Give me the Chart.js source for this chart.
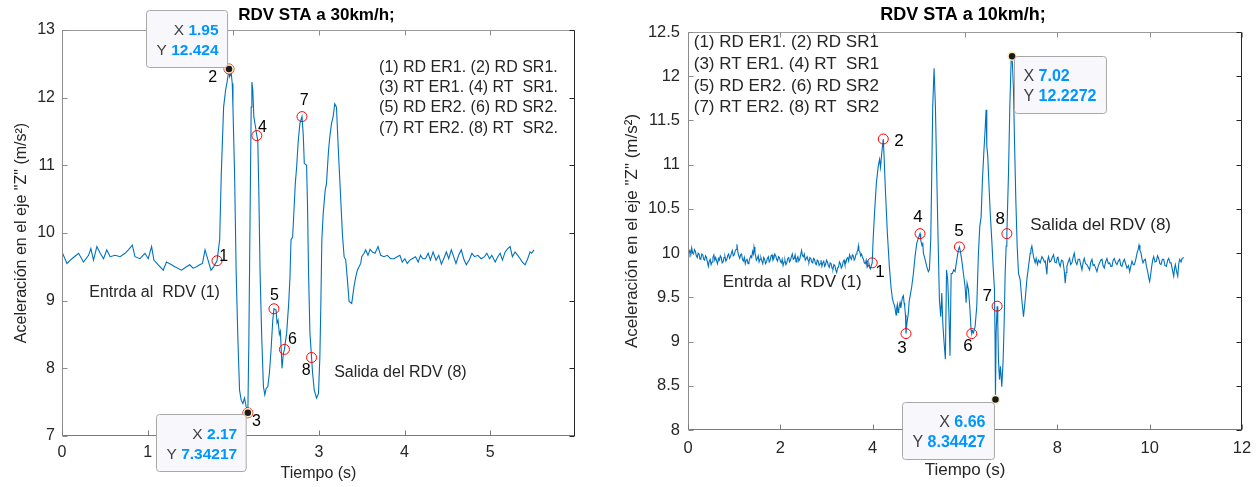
<!DOCTYPE html>
<html><head><meta charset="utf-8">
<script src="https://cdn.jsdelivr.net/npm/chart.js@4.4.1/dist/chart.umd.min.js"></script>
<style>
html,body{margin:0;padding:0;background:#fff;}
body{width:1259px;height:487px;overflow:hidden;position:relative;}
#cA{position:absolute;left:0;top:0;}
#cB{position:absolute;left:615px;top:0;}
</style></head>
<body>
<canvas id="cA" width="615" height="487" style="width:615px;height:487px"></canvas>
<canvas id="cB" width="644" height="487" style="width:644px;height:487px"></canvas>
<script>
// ---------- DATA: RDV STA a 30km/h ----------  [time (s), accel Z (m/s2)]
const accel30 = [
[0.000,9.72],[0.058,9.55],[0.116,9.62],[0.155,9.66],[0.194,9.70],[0.251,9.57],[0.310,9.67],[0.337,9.77],[0.368,9.60],[0.407,9.80],
[0.446,9.70],[0.485,9.62],[0.523,9.75],[0.562,9.65],[0.620,9.67],[0.678,9.65],[0.736,9.70],[0.775,9.75],[0.821,9.82],[0.852,9.65],
[0.910,9.62],[0.969,9.70],[1.007,9.62],[1.046,9.80],[1.073,9.60],[1.124,9.53],[1.182,9.45],[1.220,9.57],[1.279,9.53],[1.317,9.50],
[1.395,9.45],[1.453,9.50],[1.492,9.53],[1.530,9.48],[1.570,9.50],[1.608,9.53],[1.640,9.55],[1.670,9.75],[1.700,9.62],[1.740,9.45],
[1.770,9.50],[1.810,9.59],[1.841,9.90],[1.860,10.88],[1.887,11.86],[1.910,12.11],[1.930,12.25],[1.950,12.424],[1.957,12.31],[1.976,12.36],
[1.988,12.21],[1.996,11.86],[2.015,10.88],[2.034,9.40],[2.054,8.42],[2.073,7.68],[2.092,7.53],[2.112,7.48],[2.131,7.56],[2.151,7.43],
[2.170,7.342],[2.182,8.42],[2.197,10.39],[2.209,11.86],[2.217,12.23],[2.228,12.11],[2.240,11.72],[2.259,11.57],[2.275,11.44],[2.286,11.37],
[2.298,10.63],[2.313,9.40],[2.333,8.42],[2.352,7.73],[2.368,7.61],[2.383,7.70],[2.403,7.73],[2.422,7.93],[2.441,8.27],[2.461,8.71],
[2.475,8.88],[2.499,8.86],[2.511,8.67],[2.523,8.71],[2.538,8.50],[2.550,8.55],[2.569,8.00],[2.585,8.22],[2.597,8.28],[2.623,8.52],
[2.647,8.96],[2.662,9.35],[2.674,9.90],[2.693,9.94],[2.705,10.24],[2.724,10.73],[2.740,10.98],[2.759,11.37],[2.778,11.62],[2.802,11.72],
[2.817,11.45],[2.829,11.03],[2.856,11.00],[2.867,10.39],[2.879,9.40],[2.895,8.52],[2.914,8.16],[2.926,7.93],[2.945,7.68],[2.972,7.56],
[2.995,7.63],[3.011,8.17],[3.022,8.91],[3.034,9.90],[3.050,10.29],[3.073,10.63],[3.088,10.73],[3.112,11.22],[3.127,11.42],[3.147,11.62],
[3.166,11.72],[3.185,11.91],[3.205,11.86],[3.220,11.42],[3.236,10.98],[3.255,10.49],[3.274,9.99],[3.294,9.65],[3.313,9.60],[3.333,9.30],
[3.352,8.99],[3.383,8.96],[3.410,9.21],[3.430,9.35],[3.449,9.45],[3.468,9.50],[3.488,9.55],[3.500,9.65],[3.527,9.70],[3.546,9.75],
[3.573,9.67],[3.597,9.76],[3.624,9.72],[3.655,9.70],[3.690,9.80],[3.721,9.67],[3.759,9.65],[3.798,9.67],[3.837,9.62],[3.876,9.62],
[3.914,9.65],[3.945,9.67],[3.973,9.57],[4.003,9.62],[4.031,9.55],[4.062,9.60],[4.089,9.62],[4.128,9.65],[4.159,9.57],[4.186,9.67],
[4.213,9.62],[4.244,9.62],[4.275,9.70],[4.302,9.60],[4.333,9.72],[4.368,9.60],[4.399,9.67],[4.430,9.54],[4.457,9.62],[4.488,9.72],
[4.515,9.62],[4.546,9.75],[4.573,9.65],[4.600,9.55],[4.631,9.67],[4.662,9.75],[4.690,9.62],[4.721,9.53],[4.755,9.60],[4.787,9.70],
[4.817,9.65],[4.856,9.67],[4.895,9.62],[4.934,9.65],[4.961,9.70],[4.992,9.62],[5.019,9.67],[5.058,9.57],[5.089,9.65],[5.116,9.70],
[5.143,9.60],[5.174,9.72],[5.205,9.77],[5.232,9.80],[5.259,9.65],[5.290,9.72],[5.322,9.67],[5.349,9.62],[5.376,9.57],[5.407,9.53],
[5.438,9.62],[5.465,9.72],[5.484,9.70],[5.511,9.75]
];
const marks30 = [[1.81,9.59],[1.95,12.424],[2.17,7.342],[2.275,11.44],[2.475,8.88],[2.597,8.28],[2.802,11.72],[2.914,8.16]];
const tips30 = [[1.95,12.424],[2.17,7.34217]];
const xTicks30 = [0,1,2,3,4,5];
const yTicks30 = [7,8,9,10,11,12,13];

// ---------- DATA: RDV STA a 10km/h ----------
const accel10 = [
[0.00,9.96],[0.02,10.01],[0.04,10.03],[0.06,9.98],[0.08,10.06],[0.10,10.00],[0.12,9.99],[0.14,10.04],[0.16,10.02],[0.18,9.97],
[0.20,9.95],[0.22,10.00],[0.24,9.99],[0.26,9.93],[0.28,9.94],[0.30,9.99],[0.32,9.98],[0.34,9.93],[0.36,9.92],[0.38,9.97],
[0.40,9.95],[0.42,9.90],[0.44,9.85],[0.46,9.91],[0.48,9.93],[0.50,9.87],[0.52,9.90],[0.54,9.95],[0.56,9.98],[0.58,9.92],
[0.60,9.95],[0.62,9.91],[0.64,9.88],[0.66,9.94],[0.68,9.92],[0.70,9.97],[0.72,9.95],[0.74,9.89],[0.76,9.90],[0.78,9.95],
[0.80,9.96],[0.82,9.91],[0.84,9.93],[0.86,9.97],[0.88,9.99],[0.90,9.94],[0.92,9.96],[0.94,10.00],[0.96,10.03],[0.98,9.97],
[1.00,9.98],[1.02,10.02],[1.04,10.04],[1.06,10.10],[1.08,10.01],[1.10,9.97],[1.12,9.94],[1.14,9.98],[1.16,9.99],[1.18,9.93],
[1.20,9.91],[1.22,9.95],[1.24,9.88],[1.26,9.92],[1.28,9.93],[1.30,9.88],[1.32,9.90],[1.34,9.94],[1.36,9.97],[1.38,9.95],
[1.40,10.02],[1.42,9.99],[1.43,10.07],[1.45,10.01],[1.46,9.98],[1.48,9.92],[1.50,9.94],[1.52,9.97],[1.54,9.90],[1.56,9.93],
[1.58,9.95],[1.60,9.91],[1.62,9.88],[1.64,9.95],[1.66,9.93],[1.68,9.88],[1.70,9.90],[1.72,9.94],[1.74,9.96],[1.76,9.90],
[1.78,9.92],[1.80,9.97],[1.82,9.98],[1.84,9.92],[1.86,9.94],[1.88,9.99],[1.90,9.97],[1.92,9.93],[1.94,9.91],[1.96,9.96],
[1.98,9.95],[2.00,9.91],[2.02,9.89],[2.04,9.93],[2.06,9.86],[2.08,9.90],[2.10,9.92],[2.12,9.87],[2.14,9.89],[2.16,9.94],
[2.18,9.95],[2.20,9.90],[2.22,9.92],[2.24,9.96],[2.26,9.99],[2.28,9.93],[2.30,9.94],[2.32,9.98],[2.34,9.90],[2.36,9.94],
[2.38,9.96],[2.40,9.91],[2.42,9.93],[2.44,9.98],[2.46,10.03],[2.48,9.97],[2.50,9.96],[2.52,9.99],[2.54,9.92],[2.56,9.94],
[2.58,9.96],[2.60,9.92],[2.62,9.90],[2.64,9.95],[2.66,9.94],[2.68,9.90],[2.70,9.89],[2.72,9.94],[2.74,9.93],[2.76,9.88],
[2.78,9.87],[2.80,9.92],[2.82,9.91],[2.84,9.86],[2.86,9.88],[2.88,9.92],[2.90,9.85],[2.92,9.89],[2.94,9.91],[2.96,9.85],
[2.98,9.87],[3.00,9.92],[3.02,9.90],[3.04,9.86],[3.06,9.84],[3.08,9.89],[3.10,9.88],[3.12,9.83],[3.14,9.82],[3.16,9.87],
[3.18,9.86],[3.20,9.81],[3.22,9.78],[3.24,9.83],[3.26,9.84],[3.28,9.90],[3.30,9.88],[3.32,9.83],[3.34,9.85],[3.36,9.90],
[3.38,9.92],[3.40,9.87],[3.42,9.89],[3.44,9.94],[3.46,9.95],[3.48,9.91],[3.50,9.98],[3.52,9.95],[3.54,9.93],[3.56,9.98],
[3.58,9.97],[3.60,9.92],[3.62,9.94],[3.64,9.99],[3.66,10.01],[3.68,10.04],[3.69,10.08],[3.70,10.03],[3.72,10.02],[3.74,9.97],
[3.76,9.99],[3.78,9.95],[3.80,9.93],[3.82,9.89],[3.84,9.88],[3.86,9.92],[3.88,9.84],[3.90,9.86],[3.92,9.88],[3.94,9.83],
[3.95,9.82],[3.97,9.86],[3.99,9.89],[4.01,10.15],[4.04,10.45],[4.08,10.79],[4.12,10.98],[4.15,11.06],[4.17,10.97],[4.20,11.15],
[4.23,11.29],[4.25,11.06],[4.275,10.72],[4.318,10.23],[4.361,9.85],[4.397,9.62],[4.426,9.49],[4.45,9.44],[4.477,9.40],[4.506,9.30],
[4.52,9.38],[4.535,9.42],[4.55,9.33],[4.564,9.35],[4.58,9.41],[4.593,9.44],[4.61,9.38],[4.629,9.45],[4.645,9.50],[4.665,9.52],
[4.68,9.44],[4.694,9.40],[4.71,9.30],[4.722,9.09],[4.74,9.20],[4.773,9.32],[4.79,9.45],[4.81,9.51],[4.846,9.62],[4.882,9.77],
[4.918,9.96],[4.954,10.11],[4.99,10.17],[5.026,10.22],[5.041,10.15],[5.07,10.08],[5.085,10.12],[5.099,10.00],[5.135,9.93],[5.171,9.85],
[5.207,9.79],[5.229,9.81],[5.258,10.15],[5.28,10.90],[5.301,11.66],[5.33,12.09],[5.359,11.66],[5.388,10.90],[5.417,10.15],[5.446,9.47],
[5.475,9.28],[5.497,9.55],[5.52,9.20],[5.545,9.00],[5.575,8.80],[5.60,9.81],[5.625,9.70],[5.65,9.35],[5.675,8.84],[5.70,9.77],
[5.727,9.77],[5.756,9.81],[5.785,9.79],[5.821,9.92],[5.857,10.04],[5.879,10.07],[5.90,10.02],[5.93,9.92],[5.966,9.77],[6.002,9.62],
[6.024,9.44],[6.045,9.66],[6.074,9.59],[6.103,9.40],[6.132,9.13],[6.147,9.09],[6.165,9.12],[6.183,9.10],[6.219,9.17],[6.255,9.40],
[6.291,10.00],[6.32,10.30],[6.349,10.41],[6.378,10.83],[6.407,11.13],[6.436,11.40],[6.457,11.62],[6.472,11.21],[6.494,11.09],[6.523,10.72],
[6.551,10.41],[6.58,10.15],[6.609,9.85],[6.638,9.59],[6.652,9.00],[6.66,8.34427],[6.674,9.10],[6.696,9.40],[6.71,9.21],[6.725,8.79],
[6.747,8.57],[6.768,8.72],[6.797,8.49],[6.826,8.79],[6.848,9.21],[6.87,9.77],[6.891,10.08],[6.907,10.22],[6.942,10.90],[6.971,11.66],
[7.00,12.19],[7.02,12.2272],[7.05,11.85],[7.072,11.28],[7.101,10.60],[7.13,10.08],[7.159,9.77],[7.195,9.70],[7.231,9.47],[7.267,9.28],
[7.303,9.47],[7.34,9.70],[7.376,9.85],[7.412,10.00],[7.427,10.04],[7.448,10.08],[7.484,9.96],[7.52,9.89],[7.542,9.94],[7.57,9.87],
[7.593,9.92],[7.629,9.89],[7.665,9.96],[7.70,9.93],[7.72,9.90],[7.74,9.91],[7.774,9.76],[7.79,9.92],[7.81,9.96],[7.835,9.90],
[7.86,9.91],[7.89,9.95],[7.918,9.98],[7.945,9.90],[7.976,9.89],[8.00,9.95],[8.012,9.96],[8.04,9.88],[8.063,9.85],[8.09,9.92],
[8.121,9.91],[8.15,9.80],[8.171,9.66],[8.19,9.78],[8.207,9.85],[8.235,9.90],[8.265,9.94],[8.29,9.87],[8.316,9.89],[8.34,9.95],
[8.366,10.00],[8.395,9.90],[8.424,9.87],[8.45,9.93],[8.482,9.93],[8.51,9.86],[8.533,9.81],[8.56,9.90],[8.583,9.94],[8.61,9.88],
[8.641,9.87],[8.67,9.84],[8.699,9.81],[8.725,9.90],[8.75,9.93],[8.775,9.86],[8.80,9.87],[8.83,9.83],[8.858,9.79],[8.89,9.86],
[8.916,9.89],[8.94,9.92],[8.967,9.93],[8.99,9.86],[9.017,9.83],[9.045,9.90],[9.075,9.94],[9.105,9.88],[9.133,9.89],[9.16,9.85],
[9.184,9.85],[9.21,9.92],[9.234,9.94],[9.265,9.89],[9.292,9.87],[9.32,9.91],[9.35,9.93],[9.375,9.86],[9.40,9.85],[9.425,9.90],
[9.451,9.93],[9.48,9.88],[9.509,9.83],[9.54,9.86],[9.567,9.79],[9.59,9.85],[9.617,9.91],[9.645,9.87],[9.668,9.87],[9.70,9.93],
[9.726,10.00],[9.75,10.04],[9.769,10.09],[9.79,10.03],[9.813,10.00],[9.835,9.93],[9.856,9.89],[9.88,9.92],[9.907,9.93],[9.93,9.85],
[9.957,9.79],[9.98,9.72],[10.00,9.68],[10.02,9.75],[10.044,9.85],[10.065,9.92],[10.087,9.96],[10.115,9.90],[10.145,9.91],[10.17,9.97],
[10.196,9.94],[10.22,9.88],[10.246,9.87],[10.275,9.93],[10.304,9.93],[10.33,9.86],[10.362,9.85],[10.39,9.92],[10.413,9.94],[10.44,9.89],
[10.463,9.89],[10.49,9.82],[10.521,9.74],[10.54,9.83],[10.557,9.87],[10.58,9.80],[10.608,9.74],[10.63,9.88],[10.651,9.93],[10.68,9.90],
[10.702,9.94],[10.738,9.95]
];
const marks10 = [[3.99,9.89],[4.23,11.29],[4.722,9.09],[5.026,10.22],[5.879,10.07],[6.147,9.09],[6.696,9.40],[6.907,10.22]];
const tips10 = [[6.66,8.34427],[7.02,12.2272]];
const xTicks10 = [0,2,4,6,8,10,12];
const yTicks10 = [8,8.5,9,9.5,10,10.5,11,11.5,12,12.5];

const markNames = ['1','2','3','4','5','6','7','8'];
const legendLines30 = ['(1) RD ER1. (2) RD SR1.','(3) RT ER1. (4) RT  SR1.','(5) RD ER2. (6) RD SR2.','(7) RT ER2. (8) RT  SR2.'];
const legendLines10 = ['(1) RD ER1. (2) RD SR1','(3) RT ER1. (4) RT  SR1','(5) RD ER2. (6) RD SR2','(7) RT ER2. (8) RT  SR2'];
const yLabel = 'Aceleración en el eje "Z" (m/s²)';
const xLabel = 'Tiempo (s)';

// ---------- rendering ----------
const FAM = "'Liberation Sans', Arial, Helvetica, sans-serif";

const deco = {
  id: 'deco',
  afterDatasetsDraw(chart) {
    const o = chart.options.plugins.deco, ctx = chart.ctx;
    const xs = chart.scales.x, ys = chart.scales.y;
    const {left, right, top, bottom} = chart.chartArea;
    const L = Math.round(left) + 0.5, R = Math.round(right) - 0.5, T = Math.round(top) + 0.5, B = Math.round(bottom) - 0.5;
    ctx.save();
    ctx.lineWidth = 1;
    const seg = (x1, y1, x2, y2, c) => { ctx.strokeStyle = c; ctx.beginPath(); ctx.moveTo(x1, y1); ctx.lineTo(x2, y2); ctx.stroke(); };
    seg(L, T, R, T, '#9a9a9a');
    seg(L, T, L, B, '#8c8c8c');
    seg(L, B, R, B, '#7a7a7a');
    seg(R, T, R, B + 0.5, '#262626');
    o.xTicks.forEach(v => {
      const p = Math.round(xs.getPixelForValue(v)) + 0.5;
      seg(p, B, p, B - 5, '#7a7a7a'); seg(p, T, p, T + 5, '#8c8c8c');
    });
    o.yTicks.forEach(v => {
      const p = Math.round(ys.getPixelForValue(v)) + 0.5;
      seg(L, p, L + 5, p, '#8c8c8c'); seg(R, p, R - 5, p, '#262626');
    });
    // title
    ctx.fillStyle = '#000';
    ctx.font = 'bold ' + o.titleSize + 'px ' + FAM;
    ctx.textAlign = 'center'; ctx.textBaseline = 'middle';
    ctx.fillText(o.title, (left + right) / 2 - 2, 15);
    // numbered marker labels
    ctx.font = o.numSize + 'px ' + FAM;
    ctx.fillStyle = '#000';
    o.numPos.forEach((p, i) => ctx.fillText(markNames[i], xs.getPixelForValue(p[0]), ys.getPixelForValue(p[1])));
    // text notes
    ctx.font = o.textSize + 'px ' + FAM;
    ctx.fillStyle = '#262626';
    ctx.textAlign = 'left';
    const lx = xs.getPixelForValue(o.legendAt[0]), ly = ys.getPixelForValue(o.legendAt[1]);
    o.legend.forEach((s, i) => ctx.fillText(s, lx, ly + i * o.legendStep));
    ctx.fillText('Entrda al  RDV (1)', xs.getPixelForValue(o.entryAt[0]), ys.getPixelForValue(o.entryAt[1]));
    ctx.fillText('Salida del RDV (8)', xs.getPixelForValue(o.exitAt[0]), ys.getPixelForValue(o.exitAt[1]));
    ctx.restore();
  },
  afterDraw(chart) {
    const o = chart.options.plugins.deco, ctx = chart.ctx;
    const xs = chart.scales.x, ys = chart.scales.y;
    ctx.save();
    o.tips.forEach((tp, i) => {
      const pl = o.tipPlace[i];
      const px = xs.getPixelForValue(tp[0]), py = ys.getPixelForValue(tp[1]);
      const rows = [['X', String(tp[0])], ['Y', String(tp[1])]];
      const lf = o.tipSize + 'px ' + FAM, vf = 'bold ' + o.tipSize + 'px ' + FAM;
      const meas = rows.map(r => {
        ctx.font = lf; const a = ctx.measureText(r[0] + ' ').width;
        ctx.font = vf; const b = ctx.measureText(r[1]).width;
        return [a, b];
      });
      const w = Math.max(...meas.map(m => m[0] + m[1])) + 19, h = 57;
      const bx = Math.round(pl.h === 'left' ? px + pl.dx - w : px + pl.dx) + 0.5;
      const by = Math.round(pl.v === 'above' ? py + pl.dy - h : py + pl.dy) + 0.5;
      ctx.beginPath();
      ctx.roundRect(bx, by, w, h, 3);
      ctx.fillStyle = '#f8f8fc'; ctx.fill();
      ctx.strokeStyle = '#a8a8a8'; ctx.lineWidth = 1; ctx.stroke();
      ctx.textBaseline = 'middle'; ctx.textAlign = 'left';
      rows.forEach((r, k) => {
        const ry = by + 20 + k * 20;
        const tw = meas[k][0] + meas[k][1];
        const sx = pl.h === 'left' ? bx + w - 9 - tw : bx + 9;
        ctx.font = lf; ctx.fillStyle = '#404040'; ctx.fillText(r[0], sx, ry);
        ctx.font = vf; ctx.fillStyle = '#0096ff'; ctx.fillText(r[1], sx + meas[k][0], ry);
      });
    });
    ctx.restore();
  }
};

function build(id, c) {
  const pts = a => a.map(p => ({x: p[0], y: p[1]}));
  return new Chart(document.getElementById(id), {
    type: 'line',
    data: {datasets: [
      {data: pts(c.series), borderColor: '#0072BD', borderWidth: 1.1, pointRadius: 0, tension: 0, order: 3},
      {data: pts(c.marks), showLine: false, pointRadius: 5, pointStyle: 'circle', pointBorderColor: '#ff0000',
       pointBackgroundColor: 'rgba(0,0,0,0)', pointBorderWidth: 1, order: 2, clip: false},
      {data: pts(c.tips), showLine: false, pointRadius: 4, pointStyle: 'circle', pointBorderColor: '#fbeec0',
       pointBackgroundColor: '#1a1a1a', pointBorderWidth: 1.5, order: 1, clip: false}
    ]},
    options: {
      responsive: false, animation: false, events: [],
      layout: {padding: {top: c.area.top, left: 0, right: c.W - c.area.right, bottom: 0}},
      plugins: {legend: {display: false}, tooltip: {enabled: false}, deco: c.deco},
      scales: {
        x: {type: 'linear', min: c.xMin, max: c.xMax,
          grid: {display: false, drawTicks: false, tickLength: 0}, border: {display: false},
          afterBuildTicks: s => { s.ticks = c.deco.xTicks.map(v => ({value: v})); },
          afterFit: s => { s.height = 487 - c.area.bottom; s.paddingLeft = 0; s.paddingRight = 0; },
          ticks: {font: {family: FAM, size: c.tickSize}, color: '#262626', padding: c.xTickPad, maxRotation: 0,
                  autoSkip: false, callback: v => String(v)},
          title: {display: true, text: xLabel, color: '#262626', font: {family: FAM, size: c.labelSize},
                  padding: {top: 0, bottom: c.xTitlePad}}},
        y: {type: 'linear', min: c.yMin, max: c.yMax,
          grid: {display: false, drawTicks: false, tickLength: 0}, border: {display: false},
          afterBuildTicks: s => { s.ticks = c.deco.yTicks.map(v => ({value: v})); },
          afterFit: s => { s.width = c.area.left; s.paddingTop = 0; s.paddingBottom = 0; },
          ticks: {font: {family: FAM, size: c.tickSize}, color: '#262626', padding: c.yTickPad,
                  autoSkip: false, callback: v => String(v)},
          title: {display: true, text: yLabel, color: '#262626', font: {family: FAM, size: c.labelSize},
                  padding: {top: c.yTitlePad, bottom: 0}}}
      }
    },
    plugins: [deco]
  });
}

build('cA', {
  series: accel30, marks: marks30, tips: tips30, W: 615,
  area: {left: 62, right: 575, top: 30, bottom: 436},
  xMin: 0, xMax: 5.99, yMin: 7, yMax: 13,
  tickSize: 16, labelSize: 16, xTickPad: 7.4, yTickPad: 7, xTitlePad: 3.4, yTitlePad: 12.1,
  deco: {
    title: 'RDV STA a 30km/h;', titleSize: 17, numSize: 16, textSize: 16, tipSize: 15.5,
    xTicks: xTicks30, yTicks: yTicks30,
    numPos: [[1.887,9.644],[1.759,12.30],[2.271,7.207],[2.341,11.563],[2.48,9.08],[2.69,8.418],[2.829,11.96],[2.852,7.96]],
    legend: legendLines30, legendAt: [3.702,12.449], legendStep: 20.3,
    entryAt: [0.318,9.125], exitAt: [3.178,7.944],
    tips: tips30,
    tipPlace: [{h: 'left', v: 'above', dx: -2, dy: -2}, {h: 'left', v: 'below', dx: -2, dy: 1}]
  }
});

build('cB', {
  series: accel10, marks: marks10, tips: tips10, W: 644,
  area: {left: 73, right: 627, top: 32, bottom: 430},
  xMin: 0, xMax: 12, yMin: 8, yMax: 12.5,
  tickSize: 16.5, labelSize: 17, xTickPad: 9, yTickPad: 8, xTitlePad: 6.8, yTitlePad: 6.8,
  deco: {
    title: 'RDV STA a 10km/h;', titleSize: 18, numSize: 17, textSize: 17, tipSize: 16,
    xTicks: xTicks10, yTicks: yTicks10,
    numPos: [[4.158,9.778],[4.57,11.26],[4.636,8.919],[4.983,10.4],[5.872,10.242],[6.067,8.942],[6.479,9.507],[6.761,10.378]],
    legend: legendLines10, legendAt: [0.124,12.379], legendStep: 21.7,
    entryAt: [0.752,9.665], exitAt: [7.413,10.31],
    tips: tips10,
    tipPlace: [{h: 'left', v: 'below', dx: -2, dy: 2}, {h: 'right', v: 'below', dx: 2, dy: 0}]
  }
});
</script>
</body></html>
